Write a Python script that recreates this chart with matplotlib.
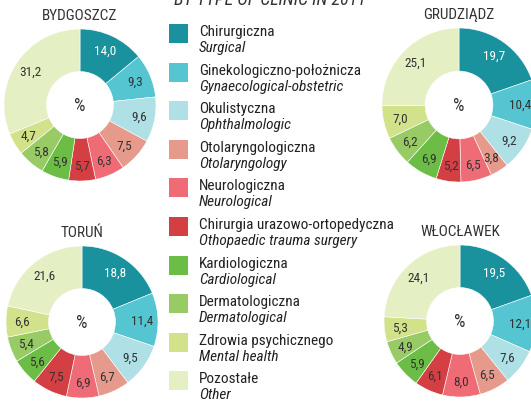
import matplotlib
matplotlib.use('Agg')
import matplotlib.pyplot as plt
from matplotlib import font_manager
from matplotlib.patches import Rectangle

# data
cities = ['BYDGOSZCZ', 'GRUDZIĄDZ', 'TORUŃ', 'WŁOCŁAWEK']
bydgoszcz = [14.0, 9.3, 9.6, 7.5, 6.3, 5.7, 5.9, 5.8, 4.7, 31.2]
grudziadz = [19.7, 10.4, 9.2, 3.8, 6.5, 5.2, 6.9, 6.2, 7.0, 25.1]
torun = [18.8, 11.4, 9.5, 6.7, 6.9, 7.5, 5.6, 5.4, 6.6, 21.6]
wloclawek = [19.5, 12.1, 7.6, 6.5, 8.0, 6.1, 5.9, 4.9, 5.3, 24.1]

labels_pl = ['Chirurgiczna', 'Ginekologiczno-położnicza', 'Okulistyczna',
             'Otolaryngologiczna', 'Neurologiczna', 'Chirurgia urazowo-ortopedyczna',
             'Kardiologiczna', 'Dermatologiczna', 'Zdrowia psychicznego', 'Pozostałe']
labels_en = ['Surgical', 'Gynaecological-obstetric', 'Ophthalmologic',
             'Otolaryngology', 'Neurological', 'Othopaedic trauma surgery',
             'Cardiological', 'Dermatological', 'Mental health', 'Other']

colors = ['#1a929e', '#55c5d1', '#aee0e6', '#e59a8b', '#ef6c77',
          '#d43f44', '#6bbd45', '#98cb66', '#d2e28a', '#e5efc4']

names = {f.name for f in font_manager.fontManager.ttflist}
fam = 'Roboto Condensed' if 'Roboto Condensed' in names else 'Liberation Sans'
plt.rcParams['font.family'] = [fam, 'DejaVu Sans']

W, H = 531, 402
fig = plt.figure(figsize=(W / 100, H / 100), dpi=100)
fig.patch.set_facecolor('white')

def donut(cx, cy, r, vals, title):
    ax = fig.add_axes([(cx - r) / W, 1 - (cy + r) / H, 2 * r / W, 2 * r / H])
    wedges, texts = ax.pie(vals, colors=colors, startangle=90, counterclock=False,
                           radius=1.0, labels=[f'{v:.1f}'.replace('.', ',') for v in vals],
                           labeldistance=0.79,
                           wedgeprops=dict(width=0.56, edgecolor='white', linewidth=0.4),
                           textprops=dict(fontsize=9.5, color='#333333'))
    for t in texts:
        t.set_ha('center')
        t.set_va('center')
    texts[0].set_color('white')
    ax.text(0, 0, '%', ha='center', va='center', fontsize=13, color='#333333')
    ax.set_xlim(-1, 1)
    ax.set_ylim(-1, 1)
    ax.set_aspect('equal')
    ax.axis('off')
    fig.text(cx / W, 1 - (cy - r - 7) / H, title, ha='center', va='bottom',
             fontsize=11, color='#333333')

donut(80, 106, 76, bydgoszcz, cities[0])
donut(459, 106, 77, grudziadz, cities[1])
donut(82, 323, 76, torun, cities[2])
donut(460, 322, 76, wloclawek, cities[3])

# header cut off at the top of the picture
fig.text(270 / W, 1 - 5 / H, 'BY TYPE OF CLINIC IN 2011', ha='center', va='baseline',
         fontsize=13, style='italic', color='#333333')

# legend
for i in range(10):
    y0 = 25 + i * 38.6
    fig.patches.append(Rectangle((169 / W, 1 - (y0 + 19) / H), 19 / W, 19 / H,
                                 transform=fig.transFigure, facecolor=colors[i],
                                 edgecolor='none'))
    fig.text(199 / W, 1 - (y0 + 7) / H, labels_pl[i], ha='left', va='center',
             fontsize=11, color='#222222')
    fig.text(199 / W, 1 - (y0 + 23) / H, labels_en[i], ha='left', va='center',
             fontsize=11, style='italic', color='#222222')

fig.savefig('out.png', dpi=100)
